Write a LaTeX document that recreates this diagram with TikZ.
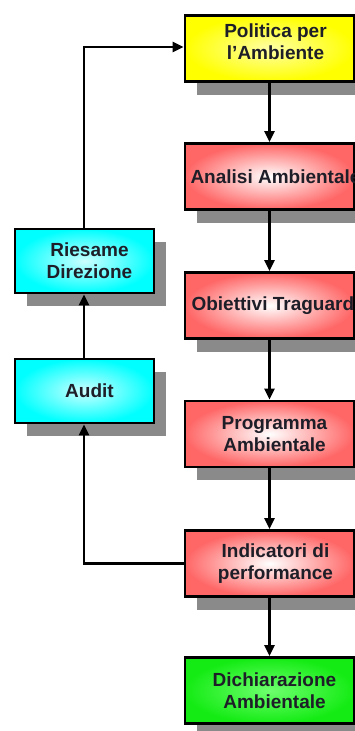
\documentclass[tikz,border=0pt]{standalone}
\usepackage{fontspec}
\setmainfont{Liberation Sans}
\usetikzlibrary{shadows,arrows.meta}
\definecolor{txt}{HTML}{1E1E28}
\definecolor{shd}{HTML}{8A8A8A}
\tikzset{
  x=1pt,y=-1pt,
  box/.style={draw=black,line width=2.8pt,rectangle,inner sep=0pt,
    drop shadow={shadow xshift=12pt,shadow yshift=-13pt,fill=shd,opacity=1}},
  rbox/.style={box,minimum width=169pt,minimum height=66pt},
  lbox/.style={box,minimum width=139pt,minimum height=64pt},
  yel/.style={shading=radial,inner color=yellow!35!white,outer color=yellow},
  red/.style={shading=radial,inner color=white,outer color={rgb,255:red,255;green,102;blue,102}},
  cya/.style={shading=radial,inner color=cyan!20!white,outer color=cyan},
  gre/.style={shading=radial,inner color={rgb,255:red,110;green,255;blue,110},outer color={rgb,255:red,20;green,235;blue,20}},
  lbl/.style={text=txt,font=\fontsize{19}{22}\selectfont\bfseries,align=center,inner sep=0pt},
  arr/.style={line width=2.6pt,-{Triangle[length=11pt,width=10pt]}}
}
\begin{document}
\begin{tikzpicture}
\useasboundingbox (0,0) rectangle (355,731);
\clip (0,0) rectangle (355,731);
\fill[white] (0,0) rectangle (355,731);
% right column
\node[rbox,yel] (pol) at (269.5,48.5) {};
\node[rbox,red] (ana) at (269.5,176.5) {};
\node[rbox,red] (obi) at (269.5,305.5) {};
\node[rbox,red] (pro) at (269.5,434) {};
\node[rbox,red] (ind) at (269.5,563.5) {};
\node[rbox,gre] (dic) at (269.5,690.5) {};
% left column
\node[lbox,cya] (ries) at (84.5,261) {};
\node[lbox,cya] (aud) at (84.5,391) {};
% labels
\node[lbl] (polT) at ([xshift=6pt,yshift=7pt]pol.center) {Politica per\\l\symbol{39}Ambiente};
\node[lbl] (anaT) at ([xshift=6pt]ana.center) {Analisi Ambientale};
\node[lbl] (obiT) at ([xshift=6pt]obi.center) {Obiettivi Traguardi};
\node[lbl] (proT) at ([xshift=5pt]pro.center) {Programma\\Ambientale};
\node[lbl] (indT) at ([xshift=6pt]ind.center) {Indicatori di\\performance};
\node[lbl] (dicT) at ([xshift=5pt]dic.center) {Dichiarazione\\Ambientale};
\node[lbl] (riesT) at ([xshift=5pt]ries.center) {Riesame\\Direzione};
\node[lbl] (audT) at ([xshift=5pt]aud.center) {Audit};
% connectors
\coordinate (c1) at (84,563.5);
\coordinate (c2) at (84,47);
\draw[arr] (pol.south) -- (ana.north);
\draw[arr] (ana.south) -- (obi.north);
\draw[arr] (obi.south) -- (pro.north);
\draw[arr] (pro.south) -- (ind.north);
\draw[arr] (ind.south) -- (dic.north);
\draw[arr] (ind.west) -- (c1) -- (aud.south -| c1);
\draw[arr] (aud.north -| c1) -- (ries.south -| c1);
\draw[arr] (ries.north -| c2) -- (c2) -- (pol.west |- c2);
\end{tikzpicture}
\end{document}
